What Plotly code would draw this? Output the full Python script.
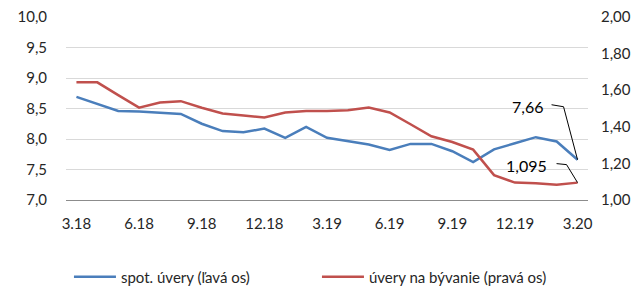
import plotly.graph_objects as go

months = ["3.18","4.18","5.18","6.18","7.18","8.18","9.18","10.18","11.18","12.18","1.19","2.19",
          "3.19","4.19","5.19","6.19","7.19","8.19","9.19","10.19","11.19","12.19","1.20","2.20","3.20"]
tick_labels = ["3.18","6.18","9.18","12.18","3.19","6.19","9.19","12.19","3.20"]
spot_uvery = [8.69, 8.57, 8.46, 8.45, 8.43, 8.41, 8.25, 8.13, 8.11, 8.17, 8.02, 8.20,
              8.02, 7.96, 7.91, 7.82, 7.92, 7.92, 7.80, 7.62, 7.83, 7.93, 8.03, 7.96, 7.66]
uvery_byvanie = [1.643, 1.643, 1.573, 1.505, 1.533, 1.540, 1.504, 1.473, 1.462, 1.451, 1.478, 1.487,
                 1.487, 1.490, 1.505, 1.478, 1.414, 1.348, 1.317, 1.275, 1.136, 1.095, 1.092, 1.084, 1.095]

FONT = "Lato"
TXT = "#262626"

fig = go.Figure()
fig.add_trace(go.Scatter(x=months, y=spot_uvery, mode="lines", name="spot. úvery (ľavá os)",
                         line=dict(color="#4A7EBB", width=2.5)))
fig.add_trace(go.Scatter(x=months, y=uvery_byvanie, mode="lines", name="úvery na bývanie (pravá os)",
                         line=dict(color="#C0504D", width=2.5), yaxis="y2"))

last = len(months) - 1
fig.add_annotation(x=last, y=spot_uvery[-1], xref="x", yref="y", text="7,66", showarrow=False,
                   xanchor="right", yanchor="middle", xshift=-33, yshift=53,
                   font=dict(family=FONT, size=16, color="#000"))
fig.add_annotation(x=last, y=uvery_byvanie[-1], xref="x", yref="y2", text="1,095", showarrow=False,
                   xanchor="right", yanchor="middle", xshift=-29, yshift=17,
                   font=dict(family=FONT, size=16, color="#000"))
fig.add_shape(type="path", xref="x", yref="y", xsizemode="pixel", ysizemode="pixel",
              xanchor=last, yanchor=spot_uvery[-1], path="M 0,0 L -14,53 L -26,55",
              line=dict(color="#000", width=1))
fig.add_shape(type="path", xref="x", yref="y2", xsizemode="pixel", ysizemode="pixel",
              xanchor=last, yanchor=uvery_byvanie[-1], path="M 0,0 L -11,18 L -21,19",
              line=dict(color="#000", width=1))

fig.update_layout(
    width=635, height=278,
    margin=dict(l=58, r=55, t=9, b=86, autoexpand=False),
    paper_bgcolor="white", plot_bgcolor="white",
    separators=", ",
    font=dict(family=FONT, size=15, color=TXT),
    showlegend=True,
    legend=dict(orientation="h", yref="container", y=0.032, yanchor="middle",
                xref="container", x=0.096, xanchor="left",
                entrywidth=191, entrywidthmode="pixels",
                font=dict(family=FONT, size=15, color=TXT), itemwidth=42),
    xaxis=dict(type="category", range=[-0.5, 24.5], tickmode="array",
               tickvals=tick_labels, ticktext=tick_labels, showgrid=False,
               showline=True, linecolor="#8C8C8C", linewidth=1, ticks="",
               ticklabelstandoff=10, zeroline=False, automargin=False),
    yaxis=dict(range=[7, 10], dtick=0.5, tick0=7, tickformat=".1f", showgrid=True,
               gridcolor="#D9D9D9", gridwidth=1, zeroline=False, ticks="",
               ticklabelstandoff=18, automargin=False, ticklabeloverflow="allow"),
    yaxis2=dict(range=[1, 2], dtick=0.2, tick0=1, tickformat=".2f", overlaying="y",
                side="right", showgrid=False, zeroline=False, ticks="",
                ticklabelstandoff=12, automargin=False, ticklabeloverflow="allow"),
)

fig.write_html("out.html")
